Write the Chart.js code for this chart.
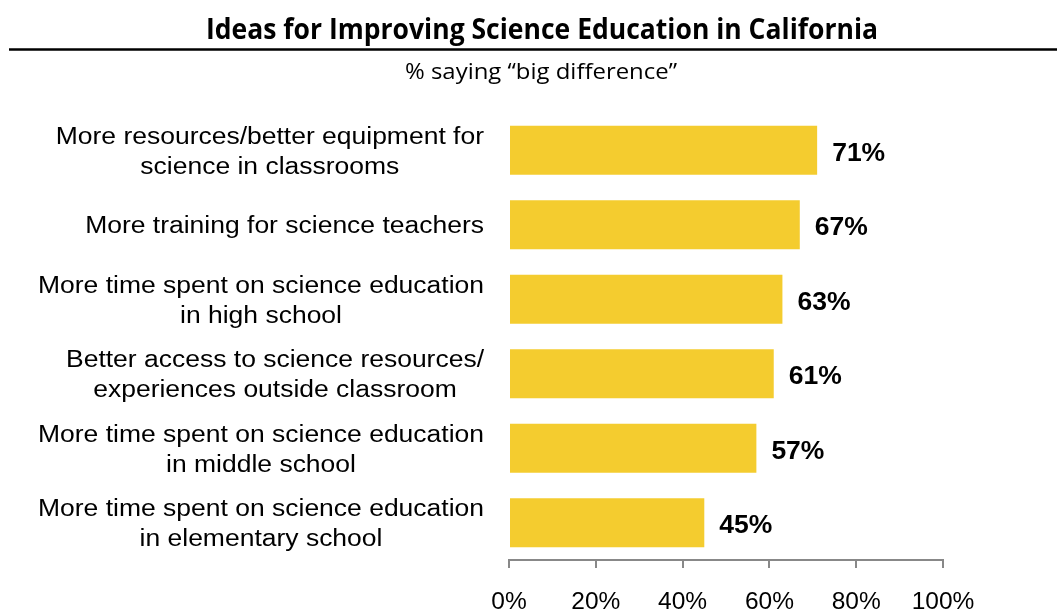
<!DOCTYPE html>
<html>
<head>
<meta charset="utf-8">
<script src="https://cdn.jsdelivr.net/npm/chart.js@4/dist/chart.umd.min.js"></script>
<style>
  html, body { margin: 0; padding: 0; background: #fff; }
  #wrap { width: 1057px; height: 612px; position: relative; }
</style>
</head>
<body>
<div id="wrap"><canvas id="chart_bar"></canvas></div>
<script>
// datos del grafico
var titulo = "Ideas for Improving Science Education in California";
var subtitulo = "% saying \u201cbig difference\u201d";
var categorias = [
	["More resources/better equipment for", "science in classrooms"],
	["More training for science teachers"],
	["More time spent on science education", "in high school"],
	["Better access to science resources/", "experiences outside classroom"],
	["More time spent on science education", "in middle school"],
	["More time spent on science education", "in elementary school"]
];
var valores = [71, 67, 63, 61, 57, 45];
var ticks_x = [0, 20, 40, 60, 80, 100];

var amarillo = "#F4CC2F";
var gris = "#888888";

// texto estirado en horizontal (la imagen original esta algo ancha)
function textoAncho(ctx, texto, x, y, sx){
	ctx.save();
	ctx.translate(x, y);
	ctx.scale(sx, 1);
	ctx.fillText(texto, 0, 0);
	ctx.restore();
}

// titulo, linea y subtitulo
var encabezado = {
	id: 'encabezado',
	afterDraw: function(chart){
		var ctx = chart.ctx;
		ctx.save();
		ctx.fillStyle = "#000";
		ctx.textAlign = "center";
		ctx.textBaseline = "alphabetic";

		ctx.font = "bold 29px 'Open Sans'";
		var w = ctx.measureText(titulo).width;
		textoAncho(ctx, titulo, 542, 38.5, 672 / w);

		ctx.strokeStyle = "#000";
		ctx.lineWidth = 2.5;
		ctx.beginPath();
		ctx.moveTo(9, 49.5);
		ctx.lineTo(1057, 49.5);
		ctx.stroke();

		ctx.font = "21px 'Open Sans'";
		w = ctx.measureText(subtitulo).width;
		textoAncho(ctx, subtitulo, 541, 79, 272 / w);
		ctx.restore();
	}
};

// etiquetas de categorias (centradas en bloque, bloque alineado a la derecha)
var etiquetas = {
	id: 'etiquetas',
	afterDraw: function(chart){
		var ctx = chart.ctx;
		var escala = chart.scales.y;
		var derecha = chart.chartArea.left - 25;
		ctx.save();
		ctx.fillStyle = "#000";
		ctx.font = "23.5px 'Liberation Sans'";
		ctx.textAlign = "center";
		ctx.textBaseline = "middle";
		var sx = 446 / ctx.measureText("More time spent on science education").width;
		$each(categorias, function(i, lineas){
			var y = escala.getPixelForValue(i) + 2;
			var ancho = 0;
			lineas.forEach(function(l){ ancho = Math.max(ancho, ctx.measureText(l).width * sx); });
			var cx = derecha - ancho / 2;
			var y0 = y - (lineas.length - 1) * 30 / 2;
			lineas.forEach(function(l, k){
				textoAncho(ctx, l, cx, y0 + k * 30, sx);
			});
		});
		ctx.restore();
	}
};

// valores al final de cada barra
var valoresBarra = {
	id: 'valoresBarra',
	afterDatasetsDraw: function(chart){
		var ctx = chart.ctx;
		var meta = chart.getDatasetMeta(0);
		ctx.save();
		ctx.fillStyle = "#000";
		ctx.font = "bold 26.5px 'Liberation Sans'";
		ctx.textAlign = "left";
		ctx.textBaseline = "middle";
		meta.data.forEach(function(barra, i){
			ctx.fillText(valores[i] + "%", barra.x + 15, barra.y + 3);
		});
		ctx.restore();
	}
};

function $each(arr, fn){ arr.forEach(function(v, i){ fn(i, v); }); }

var datos = {
	type: "bar",
	data: {
		labels: categorias,
		datasets: [{
			data: valores,
			backgroundColor: amarillo,
			borderWidth: 0,
			barPercentage: 0.66,
			categoryPercentage: 1
		}]
	},
	options: {
		indexAxis: 'y',
		responsive: true,
		maintainAspectRatio: false,
		animation: false,
		layout: { padding: { top: 113, left: 509, right: 114, bottom: 0 } },
		plugins: {
			legend: { display: false },
			tooltip: { enabled: false }
		},
		scales: {
			y: {
				display: false
			},
			x: {
				min: 0,
				max: 100,
				afterBuildTicks: function(axis){
					axis.ticks = ticks_x.map(function(v){ return { value: v }; });
				},
				afterFit: function(axis){ axis.height = 52; },
				grid: {
					drawOnChartArea: false,
					drawTicks: true,
					tickLength: 8,
					color: gris,
					lineWidth: 2
				},
				border: { display: true, color: gris, width: 2 },
				ticks: {
					color: "#000",
					font: { family: "'Liberation Sans'", size: 24.5 },
					padding: 20,
					maxRotation: 0,
					callback: function(v){ return v + "%"; }
				}
			}
		}
	},
	plugins: [encabezado, etiquetas, valoresBarra]
};

var canvas = document.getElementById('chart_bar').getContext('2d');
window.barras = new Chart(canvas, datos);
</script>
</body>
</html>
